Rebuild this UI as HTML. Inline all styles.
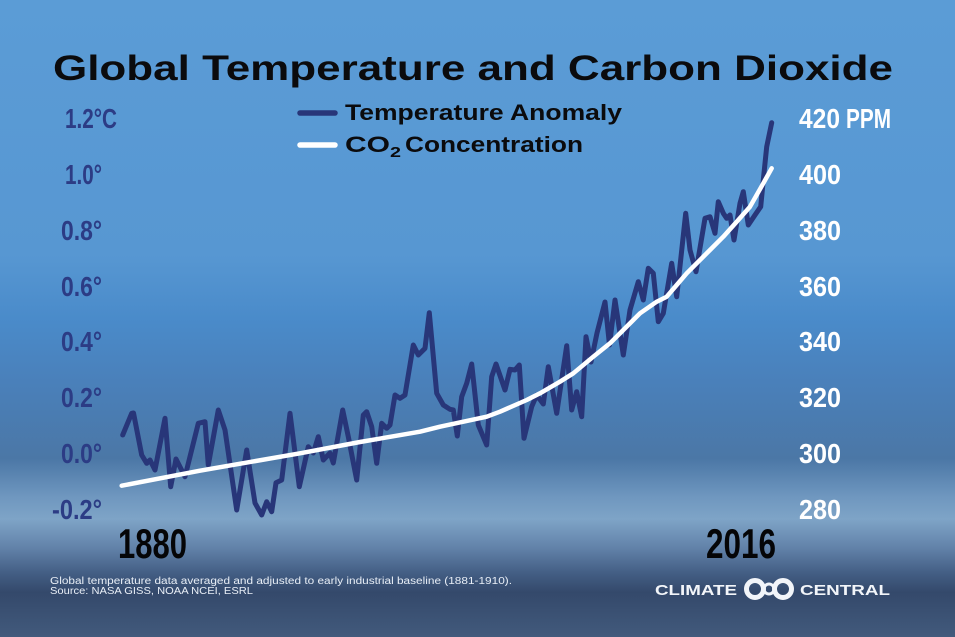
<!DOCTYPE html>
<html>
<head>
<meta charset="utf-8">
<style>
  html,body{margin:0;padding:0;background:#5797d2;}
  svg{display:block;}
</style>
</head>
<body>
<svg width="955" height="637" viewBox="0 0 955 637" xmlns="http://www.w3.org/2000/svg">
  <defs>
    <linearGradient id="bg" x1="0" y1="0" x2="0" y2="1">
      <stop offset="0" stop-color="#5b9cd6"/>
      <stop offset="0.40" stop-color="#5797d2"/>
      <stop offset="0.50" stop-color="#4a8bca"/>
      <stop offset="0.60" stop-color="#4a80ba"/>
      <stop offset="0.72" stop-color="#4b77a6"/>
      <stop offset="0.78" stop-color="#6f97bf"/>
      <stop offset="0.815" stop-color="#7ea4c7"/>
      <stop offset="0.86" stop-color="#6282a9"/>
      <stop offset="0.90" stop-color="#435e84"/>
      <stop offset="0.93" stop-color="#34496b"/>
      <stop offset="1" stop-color="#425a7c"/>
    </linearGradient>
  </defs>
  <rect x="0" y="0" width="955" height="637" fill="url(#bg)"/>

  <!-- Title -->
  <text x="53" y="80" font-family="Liberation Sans, sans-serif" font-weight="bold" font-size="35" fill="#0b0b0d" textLength="840" lengthAdjust="spacingAndGlyphs">Global Temperature and Carbon Dioxide</text>

  <!-- Legend -->
  <line x1="300" y1="113" x2="335" y2="113" stroke="#283679" stroke-width="5.5" stroke-linecap="round"/>
  <text x="345" y="120" font-family="Liberation Sans, sans-serif" font-weight="bold" font-size="22" fill="#0b0b0d" textLength="277" lengthAdjust="spacingAndGlyphs">Temperature Anomaly</text>
  <line x1="300" y1="145" x2="335" y2="145" stroke="#ffffff" stroke-width="5.5" stroke-linecap="round"/>
  <text x="345" y="152" font-family="Liberation Sans, sans-serif" font-weight="bold" font-size="22" fill="#0b0b0d" textLength="45" lengthAdjust="spacingAndGlyphs">CO</text>
  <text x="390" y="157" font-family="Liberation Sans, sans-serif" font-weight="bold" font-size="15" fill="#0b0b0d" textLength="11" lengthAdjust="spacingAndGlyphs">2</text>
  <text x="405" y="152" font-family="Liberation Sans, sans-serif" font-weight="bold" font-size="22" fill="#0b0b0d" textLength="178" lengthAdjust="spacingAndGlyphs">Concentration</text>

  <!-- Left axis labels -->
  <g font-family="Liberation Sans, sans-serif" font-weight="bold" font-size="28" fill="#2c3c85" lengthAdjust="spacingAndGlyphs">
    <text x="65" y="128" textLength="52" lengthAdjust="spacingAndGlyphs">1.2°C</text>
    <text x="65" y="184" textLength="37" lengthAdjust="spacingAndGlyphs">1.0°</text>
    <text x="61" y="240" textLength="41" lengthAdjust="spacingAndGlyphs">0.8°</text>
    <text x="61" y="296" textLength="41" lengthAdjust="spacingAndGlyphs">0.6°</text>
    <text x="61" y="351" textLength="41" lengthAdjust="spacingAndGlyphs">0.4°</text>
    <text x="61" y="407" textLength="41" lengthAdjust="spacingAndGlyphs">0.2°</text>
    <text x="61" y="463" textLength="41" lengthAdjust="spacingAndGlyphs">0.0°</text>
    <text x="52" y="519" textLength="50" lengthAdjust="spacingAndGlyphs">-0.2°</text>
  </g>

  <!-- Right axis labels -->
  <g font-family="Liberation Sans, sans-serif" font-weight="bold" font-size="28" fill="#ffffff">
    <text x="799" y="128" textLength="41" lengthAdjust="spacingAndGlyphs">420</text>
    <text x="846" y="128" textLength="45" lengthAdjust="spacingAndGlyphs">PPM</text>
    <text x="799" y="184" textLength="42" lengthAdjust="spacingAndGlyphs">400</text>
    <text x="799" y="240" textLength="42" lengthAdjust="spacingAndGlyphs">380</text>
    <text x="799" y="296" textLength="42" lengthAdjust="spacingAndGlyphs">360</text>
    <text x="799" y="351" textLength="42" lengthAdjust="spacingAndGlyphs">340</text>
    <text x="799" y="407" textLength="42" lengthAdjust="spacingAndGlyphs">320</text>
    <text x="799" y="463" textLength="42" lengthAdjust="spacingAndGlyphs">300</text>
    <text x="799" y="519" textLength="42" lengthAdjust="spacingAndGlyphs">280</text>
  </g>

  <!-- Temperature line -->
  <polyline fill="none" stroke="#283679" stroke-width="5" stroke-linejoin="round" stroke-linecap="round"
    points="122.7,435 131.7,413.3 133.5,413 141.7,455 146.7,463.3 150,460 155,470 165,418.3 170.7,486.7 176,459 185,476.7 198.3,423.3 205,421.7 208.3,465 218.3,410 225,430 236.7,510 246.7,450 255,503 261.7,515 266.7,501.7 271.7,511.7 276,482.7 281.7,480 290,413.3 299.3,486.7 308.3,446.7 313.3,453 318.3,436.7 323.3,460 330,453 333.3,463 342.7,410 348.3,436.7 356.7,480 363.3,415 366.7,411.7 371.7,426.7 376.7,463.3 381.7,423.3 386.7,428.3 390,425 395,395 400,398.3 405,395 413.3,345 418.3,355 425,348.3 429.3,312.7 436.7,393.3 443.3,405 450,409.3 453.3,410 457.3,436 461.7,396.7 466.7,383.3 471.7,364 478.3,425 486.7,445 491.7,376.7 496,364 505,390 510,369.3 515,370 519.3,365 524,438.3 531.7,406.7 536.7,395 543.3,404 548.3,366.7 556.7,413.3 566.7,345.7 571.7,410 576.7,391.7 581.7,416.7 586,336.7 591,362 597,333 605,302 609.5,345 615,300 623.3,355 630,310 638.3,281.7 643.3,300 648.3,268.3 653.3,273.3 658.3,321.7 663.3,313.3 671.7,263.3 676.7,296.7 685.7,213.3 690,250 696,271.7 705,218.3 710,216.7 715,233.3 718.3,201.7 723.3,213.3 726.7,218.3 730,215 734,240 740,203.3 743.3,191.7 748.3,225 755,215 760.7,206.7 763.3,180 766.7,146.7 771.7,122.7"/>

  <!-- CO2 line -->
  <polyline fill="none" stroke="#ffffff" stroke-width="4.5" stroke-linejoin="round" stroke-linecap="round"
    points="121.7,485.7 200,470.7 300,453.3 360,442 420,431.7 440,426.7 486.7,416.7 500,411.7 526.7,400 540,393.3 560,381.7 573.3,373.3 593.3,356.7 610,343.3 623.3,330 640,313.3 656.7,301.7 666.7,296.7 676.7,285 686.7,273.3 696.7,263.3 710,250 723.3,236.7 736.7,221.7 750,206.7 763.3,183.3 771.7,168.3"/>

  <!-- Year labels -->
  <text x="118" y="558" font-family="Liberation Sans, sans-serif" font-weight="bold" font-size="42" fill="#050507" textLength="69" lengthAdjust="spacingAndGlyphs">1880</text>
  <text x="706" y="558" font-family="Liberation Sans, sans-serif" font-weight="bold" font-size="42" fill="#050507" textLength="70" lengthAdjust="spacingAndGlyphs">2016</text>

  <!-- Footer -->
  <text x="50" y="584" font-family="Liberation Sans, sans-serif" font-size="10" fill="#e8eef6" textLength="462" lengthAdjust="spacingAndGlyphs">Global temperature data averaged and adjusted to early industrial baseline (1881-1910).</text>
  <text x="50" y="594" font-family="Liberation Sans, sans-serif" font-size="10" fill="#e8eef6" textLength="203" lengthAdjust="spacingAndGlyphs">Source: NASA GISS, NOAA NCEI, ESRL</text>

  <!-- Logo -->
  <text x="655" y="595" font-family="Liberation Sans, sans-serif" font-weight="bold" font-size="15" fill="#f2f5f9" textLength="82" lengthAdjust="spacingAndGlyphs">CLIMATE</text>
  <g fill="none" stroke="#f2f5f9">
    <circle cx="755" cy="589" r="8.5" stroke-width="5"/>
    <circle cx="783" cy="589" r="8.5" stroke-width="5"/>
    <circle cx="769" cy="589" r="5" stroke-width="3"/>
  </g>
  <text x="800" y="595" font-family="Liberation Sans, sans-serif" font-weight="bold" font-size="15" fill="#f2f5f9" textLength="90" lengthAdjust="spacingAndGlyphs">CENTRAL</text>
</svg>
</body>
</html>
